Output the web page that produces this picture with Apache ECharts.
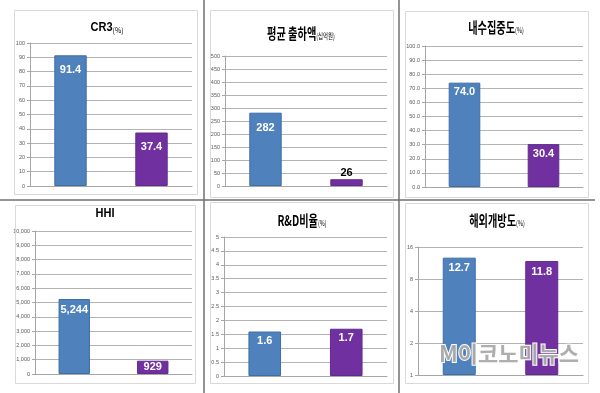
<!DOCTYPE html>
<html>
<head>
<meta charset="utf-8">
<script src="https://cdn.jsdelivr.net/npm/echarts@6/dist/echarts.min.js"></script>
<style>
html,body{margin:0;padding:0;background:#fff;}
#chart{width:600px;height:393px;}
</style>
</head>
<body>
<div id="chart"></div>
<script>
// ---- data ----
const categories = ['A', 'B'];
const cr3Values = [91.4, 37.4];
const shipmentValues = [282, 26];
const domesticValues = [74.0, 30.4];
const hhiValues = [5244, 929];
const rdValues = [1.6, 1.7];
const opennessValues = [12.7, 11.8];
const panelTitles = ['CR3', '평균 출하액', '내수집중도', 'HHI', 'R&D비율', '해외개방도'];
const panelUnits = ['(%)', '(십억원)', '(%)', '', '(%)', '(%)'];
const axisMin = [0, 0, 0, 0, 0, 1];
const axisMax = [100, 500, 100, 10000, 5, 16];
const axisInterval = [10, 50, 10, 1000, 0.5, null];
const watermarkText = 'M이코노미뉴스';

// ---- styling / layout ----
const seriesValues = [cr3Values, shipmentValues, domesticValues, hhiValues, rdValues, opennessValues];
const grids = [
  {left: 30, top: 43, width: 162, height: 143},
  {left: 225, top: 56, width: 162, height: 130},
  {left: 425, top: 46, width: 158, height: 141},
  {left: 35, top: 231, width: 157, height: 143},
  {left: 224, top: 237, width: 163, height: 139},
  {left: 418, top: 247, width: 165, height: 128}
];
const titlePos = [[107, 27], [301, 33], [496, 27], [105, 213], [302, 220], [497, 220]];
const panelBoxes = [
  [14, 10, 197, 194], [210, 10, 393, 197], [405, 11, 588, 197],
  [15, 205, 195, 383], [210, 202, 393, 383], [405, 203, 588, 383]
];
const barColors = ['#4f81bd', '#7030a0'];
const barBorders = ['#3c6ea8', '#632a8e'];
const latin = '"Liberation Sans", Arial, sans-serif';
const kr = '"Noto Sans CJK KR", "Liberation Sans", sans-serif';

function withComma(v) { return Math.round(v).toString().replace(/\B(?=(\d{3})+(?!\d))/g, ','); }
const axisFormatters = [
  v => String(v),
  v => String(v),
  v => Number(v).toFixed(1),
  v => withComma(v),
  v => String(v),
  v => String(v)
];
const labelFormatters = [
  v => v.toFixed(1),
  v => String(Math.round(v)),
  v => v.toFixed(1),
  v => withComma(v),
  v => v.toFixed(1),
  v => v.toFixed(1)
];
const labelDist = [9, 10, 4, 5, 4, 5];

const option = {
  animation: false,
  backgroundColor: '#ffffff',
  grid: grids.map(g => Object.assign({containLabel: false}, g)),
  xAxis: grids.map((g, i) => ({
    type: 'category', gridIndex: i, data: categories,
    axisLine: {show: true, onZero: false, lineStyle: {color: '#a6a6a6', width: 1}},
    axisTick: {show: false}, axisLabel: {show: false}, splitLine: {show: false}
  })),
  yAxis: grids.map((g, i) => {
    const ax = {
      gridIndex: i, min: axisMin[i], max: axisMax[i],
      axisLine: {show: true, lineStyle: {color: '#a6a6a6', width: 1}},
      axisTick: {show: true, length: 3, lineStyle: {color: '#a6a6a6'}},
      axisLabel: {fontSize: 5.5, color: '#595959', margin: 5, fontFamily: latin, formatter: axisFormatters[i]},
      splitLine: {show: true, lineStyle: {color: '#b3b3b3', width: 1}}
    };
    if (axisInterval[i] == null) { ax.type = 'log'; ax.logBase = 2; }
    else { ax.type = 'value'; ax.interval = axisInterval[i]; }
    return ax;
  }),
  series: seriesValues.map((vals, i) => ({
    type: 'bar', xAxisIndex: i, yAxisIndex: i, barWidth: '40%',
    data: vals.map((v, j) => {
      const span = axisInterval[i] == null ? Math.log2(axisMax[i]) : axisMax[i];
      const frac = axisInterval[i] == null ? Math.log2(v) / span : v / span;
      let lbl = {};
      if (frac < 0.06) lbl = {position: 'top', color: '#000', distance: 1};
      else if (frac < 0.12) lbl = {position: 'inside'};
      return {
        value: v,
        itemStyle: {color: barColors[j], borderColor: barBorders[j], borderWidth: 1},
        label: lbl
      };
    }),
    label: {
      show: true, position: 'insideTop', distance: labelDist[i], color: '#ffffff',
      fontFamily: latin, fontWeight: 'bold', fontSize: 11,
      formatter: p => labelFormatters[i](p.value)
    }
  })),
  graphic: []
};

// table lines
const tableLines = [[204, 0, 204, 393], [399, 0, 399, 393], [0, 200, 595, 200]];
tableLines.forEach(l => option.graphic.push({
  type: 'line', shape: {x1: l[0], y1: l[1], x2: l[2], y2: l[3]},
  style: {stroke: '#707070', lineWidth: 1.5}, silent: true, z: 1
}));
// panel borders
panelBoxes.forEach(b => option.graphic.push({
  type: 'rect', shape: {x: b[0] + 0.5, y: b[1] + 0.5, width: b[2] - b[0], height: b[3] - b[1]},
  style: {fill: 'none', stroke: '#d9d9d9', lineWidth: 1}, silent: true, z: 1
}));
// titles
panelTitles.forEach((t, i) => {
  const isKr = /[가-힣]/.test(t);
  option.graphic.push({
    type: 'text', x: titlePos[i][0], y: titlePos[i][1], scaleX: isKr ? 0.68 : 0.85, z: 5,
    style: {
      text: '{a|' + t + '}' + (panelUnits[i] ? '{b|' + panelUnits[i] + '}' : ''),
      align: 'center', verticalAlign: 'middle',
      rich: {
        a: {fontFamily: isKr ? kr : latin, fontWeight: 'bold', fontSize: isKr ? 15 : 13, fill: '#000'},
        b: {fontFamily: kr, fontSize: 8, fill: '#000', padding: [5, 0, 0, 0]}
      }
    }
  });
});
// watermark
option.graphic.push({
  type: 'text', x: 509, y: 354, scaleX: 1, z: 20,
  style: {
    text: watermarkText, align: 'center', verticalAlign: 'middle',
    fontFamily: kr, fontWeight: 'bold', fontSize: 22,
    fill: 'rgba(165,165,165,0.9)', stroke: '#ffffff', lineWidth: 2
  }
});

const chart = echarts.init(document.getElementById('chart'), null, {renderer: 'canvas'});
chart.setOption(option);
</script>
</body>
</html>
